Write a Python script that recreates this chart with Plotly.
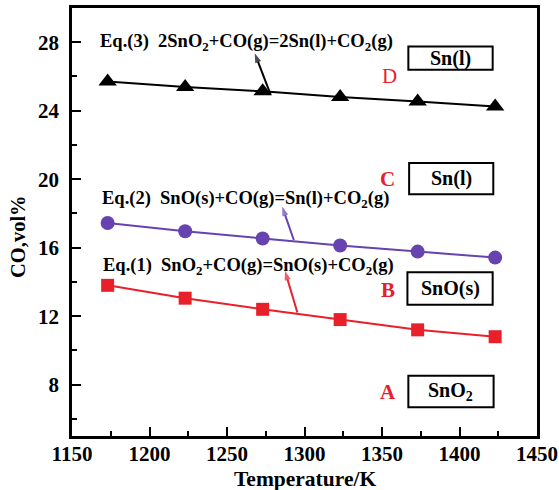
import plotly.graph_objects as go

temperature = [1173, 1223, 1273, 1323, 1373, 1423]
eq1_co = [13.8, 13.05, 12.4, 11.8, 11.2, 10.8]
eq2_co = [17.44, 16.96, 16.54, 16.13, 15.77, 15.42]
eq3_co = [25.7, 25.38, 25.13, 24.8, 24.54, 24.25]

eq_labels = [
    "Eq.(1)\u00a0\u00a0SnO<sub>2</sub>+CO(g)=SnO(s)+CO<sub>2</sub>(g)",
    "Eq.(2)\u00a0\u00a0SnO(s)+CO(g)=Sn(l)+CO<sub>2</sub>(g)",
    "Eq.(3)\u00a0\u00a02SnO<sub>2</sub>+CO(g)=2Sn(l)+CO<sub>2</sub>(g)",
]
region_letters = ["A", "B", "C", "D"]
phase_labels = ["SnO<sub>2</sub>", "SnO(s)", "Sn(l)", "Sn(l)"]
x_title = "Temperature/K"
y_title = "CO,vol%"

RED = "#e8202a"
PURPLE = "#6643b0"
FONT = "Liberation Serif"

fig = go.Figure()
fig.add_trace(go.Scatter(x=temperature, y=eq1_co, mode="lines+markers",
                         line=dict(color=RED, width=2),
                         marker=dict(symbol="square", size=13, color=RED)))
fig.add_trace(go.Scatter(x=temperature, y=eq2_co, mode="lines+markers",
                         line=dict(color=PURPLE, width=2),
                         marker=dict(symbol="circle", size=14, color=PURPLE)))
fig.add_trace(go.Scatter(x=temperature, y=eq3_co, mode="lines+markers",
                         line=dict(color="black", width=2),
                         marker=dict(symbol="triangle-up", size=16, color="black")))

# arrows from the curve (tail) to the label (tip)
arrow_tails = [(1295.4, 12.21), (1293.1, 16.45), (1278.2, 24.93)]
arrow_tips = [(1287.4, 14.65), (1285.6, 18.40), (1267.9, 27.36)]
arrow_colors = [RED, PURPLE, "black"]
for (sx, sy), (tx, ty), col in zip(arrow_tails, arrow_tips, arrow_colors):
    fig.add_trace(go.Scatter(x=[sx, tx], y=[sy, ty], mode="lines+markers",
                             line=dict(color=col, width=2),
                             marker=dict(symbol=["circle", "arrow"], size=[0, 10],
                                         angleref="previous", color=col,
                                         line=dict(width=0)),
                             hoverinfo="skip"))

# equation labels
label_pos = [(1169.0, 14.9), (1168.0, 18.79), (1166.8, 27.98)]
for (lx, ly), txt in zip(label_pos, eq_labels):
    fig.add_annotation(x=lx, y=ly, xref="x", yref="y", text=txt, showarrow=False,
                       xanchor="left", yanchor="middle",
                       font=dict(family=FONT, size=18.5, color="black", weight="bold"))

# region boxes
boxes = [(1367, 1422, 6.68, 8.52), (1366.4, 1421.4, 12.67, 14.56),
         (1367.5, 1421.8, 19.12, 20.94), (1367, 1421.4, 26.39, 27.75)]
for (x0, x1, y0, y1), txt in zip(boxes, phase_labels):
    fig.add_shape(type="rect", x0=x0, x1=x1, y0=y0, y1=y1, xref="x", yref="y",
                  line=dict(color="black", width=2), fillcolor="white")
    fig.add_annotation(x=(x0 + x1) / 2, y=(y0 + y1) / 2, xref="x", yref="y", text=txt,
                       showarrow=False,
                       font=dict(family=FONT, size=20, color="black", weight="bold"))

letter_pos = [(1353.8, 7.55), (1353.8, 13.5), (1353.8, 20.0), (1355, 26.0)]
for (lx, ly), txt in zip(letter_pos, region_letters):
    fig.add_annotation(x=lx, y=ly, xref="x", yref="y", text=txt, showarrow=False,
                       font=dict(family=FONT, size=21, color=RED,
                                 weight="normal" if txt == "D" else "bold"))

# axis titles
fig.add_annotation(x=0.5, y=0, xref="paper", yref="paper", text=x_title, showarrow=False,
                   xanchor="center", yanchor="middle", yshift=-43,
                   font=dict(family=FONT, size=21.5, color="black", weight="bold"))
fig.add_annotation(x=0, y=0.465, xref="paper", yref="paper", text=y_title, showarrow=False,
                   xanchor="center", yanchor="middle", xshift=-54, textangle=-90,
                   font=dict(family=FONT, size=20.5, color="black", weight="bold"))

axis_common = dict(showline=True, linecolor="black", linewidth=2.5, mirror=True,
                   ticks="inside", ticklen=9, tickwidth=2, tickcolor="black",
                   showgrid=False, zeroline=False, automargin=False,
                   tickfont=dict(family=FONT, size=21, color="black", weight="bold"))

fig.update_xaxes(range=[1150, 1450], dtick=50, tick0=1150,
                 minor=dict(ticks="inside", ticklen=5, tickwidth=2, tickcolor="black", dtick=25),
                 ticklabelstandoff=-3,
                 **axis_common)
fig.update_yaxes(range=[5, 30], dtick=4, tick0=8,
                 minor=dict(ticks="inside", ticklen=5, tickwidth=2, tickcolor="black", dtick=2, tick0=6),
                 ticklabelstandoff=6,
                 **axis_common)

fig.update_layout(width=559, height=490, showlegend=False,
                  margin=dict(l=72, r=22, t=8, b=54),
                  plot_bgcolor="white", paper_bgcolor="white")

fig.write_html("out.html")
